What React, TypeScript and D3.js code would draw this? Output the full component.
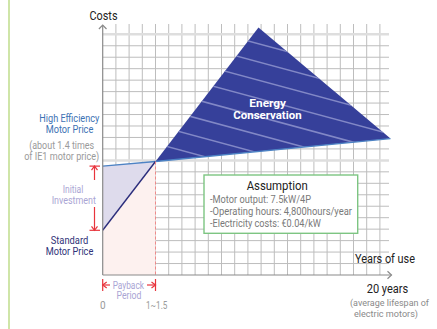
import React from "react";
import * as d3 from "d3";

// ---- data (grid units: x = years-of-use axis, y = cost axis) ----
const gridCount = 21;
const heavyRows = [0, 11];
const standardCost = [
  { t: 0, c: 3.9 },
  { t: 4, c: 9.9 },
  { t: 11.8, c: 21.6 },
];
const highEffCost = [
  { t: 0, c: 9.5 },
  { t: 4, c: 9.9 },
  { t: 21.8, c: 11.9 },
];
const paybackT = 4;
const conservation = [
  { t: 4, c: 9.9 },
  { t: 11.8, c: 21.6 },
  { t: 21.8, c: 11.9 },
];
const assumptionLines = [
  "-Motor output: 7.5kW/4P",
  "-Operating hours: 4,800hours/year",
  "-Electricity costs: €0.04/kW",
];
const assumptionWidths = [101, 142, 111];

const RED = "#e8343c";
const FONT = "Roboto, 'Open Sans', sans-serif";

function T(props: any) {
  const { x, y, w, size = 11, fill = "#222", anchor = "middle", weight = 400, children } = props;
  return (
    <text
      x={x}
      y={y}
      fontSize={size}
      fill={fill}
      textAnchor={anchor}
      fontWeight={weight}
      fontFamily={FONT}
      textLength={w}
      lengthAdjust="spacingAndGlyphs"
    >
      {children}
    </text>
  );
}

export default function App() {
  const x = d3.scaleLinear().domain([0, gridCount]).range([102.7, 379.9]);
  const y = d3.scaleLinear().domain([0, gridCount]).range([275, 34.3]);
  const line = d3
    .line<{ t: number; c: number }>()
    .x((d) => x(d.t))
    .y((d) => y(d.c));
  const ticks = d3.range(0, gridCount + 1);
  const gridRight = 389;
  const gridTop = 24;

  const pinkPoly = [
    { t: 0, c: 0 },
    { t: 0, c: highEffCost[0].c },
    { t: paybackT, c: highEffCost[1].c },
    { t: paybackT, c: 0 },
  ];
  const lavPoly = [highEffCost[0], highEffCost[1], standardCost[0]];

  // decorative stripes inside conservation triangle
  const stripes = d3.range(-4, 10).map((k) => {
    const x0 = 140, x1 = 400;
    const y0 = 59 + 0.27 * (x0 - 180) + 18.2 * k;
    const y1 = 59 + 0.27 * (x1 - 180) + 18.2 * k;
    return { x0, y0, x1, y1, k };
  });

  const px = x(paybackT);
  const ax = 94.5;
  const yHE = y(highEffCost[0].c);
  const ySt = y(standardCost[0].c);

  return (
    <svg
      width={437}
      height={329}
      style={{ position: "absolute", left: 0, top: 0, background: "#fff" }}
    >
      <defs>
        <clipPath id="consClip">
          <path d={line(conservation) + "Z"} />
        </clipPath>
      </defs>
      <rect x={0} y={0} width={437} height={329} fill="#fff" />
      <line x1={9} x2={9} y1={0} y2={329} stroke="#cfe5a8" strokeWidth={2} />

      {/* grid */}
      {ticks.slice(1).map((k) => (
        <line key={"v" + k} x1={x(k)} x2={x(k)} y1={gridTop} y2={y(0)} stroke="#bdbdbd" strokeWidth={1} />
      ))}
      {ticks.slice(1).map((k) =>
        heavyRows.includes(gridCount - k) ? null : (
          <line key={"h" + k} x1={x(0)} x2={gridRight} y1={y(k)} y2={y(k)} stroke="#bdbdbd" strokeWidth={1} />
        )
      )}
      {heavyRows.map((r) => (
        <line key={"hh" + r} x1={x(0)} x2={gridRight} y1={y(gridCount - r)} y2={y(gridCount - r)} stroke="#dedede" strokeWidth={2.5} />
      ))}

      {/* payback region */}
      <path d={line(pinkPoly) + "Z"} fill="#fdf1ef" />
      <path d={line(lavPoly) + "Z"} fill="#dedbec" />

      {/* energy conservation */}
      <path d={line(conservation) + "Z"} fill="#36409a" />
      <g clipPath="url(#consClip)">
        {stripes.map((s) => (
          <line key={s.k} x1={s.x0} y1={s.y0} x2={s.x1} y2={s.y1} stroke="#8288c6" strokeWidth={1.5} />
        ))}
      </g>

      <path d={line(highEffCost) ?? ""} fill="none" stroke="#4d83c4" strokeWidth={1.4} />
      <path d={line(standardCost.slice(0, 2)) ?? ""} fill="none" stroke="#2b2d7c" strokeWidth={1.4} />

      <line x1={px} x2={px} y1={y(highEffCost[1].c)} y2={y(0)} stroke="#f08a8a" strokeWidth={1} strokeDasharray="3,2" />

      {/* axes */}
      <g stroke="#8a8a8a" strokeWidth={1.2} fill="none">
        <line x1={x(0)} x2={x(0)} y1={y(0)} y2={25} />
        <polyline points={`${x(0) - 3.8},${29} ${x(0)},${25} ${x(0) + 3.8},${29}`} />
        <line x1={x(0)} x2={391.5} y1={y(0)} y2={y(0)} />
        <polyline points={`387.5,271.2 391.5,275 387.5,278.8`} />
      </g>

      {/* initial investment arrow */}
      <g stroke={RED} strokeWidth={1.2} fill="none">
        <line x1={89.5} x2={100} y1={yHE} y2={yHE} />
        <line x1={89.5} x2={100} y1={ySt} y2={ySt} />
        <line x1={ax} x2={ax} y1={yHE} y2={180} />
        <line x1={ax} x2={ax} y1={207} y2={ySt} />
        <polyline points={`${ax - 3},${yHE + 4} ${ax},${yHE} ${ax + 3},${yHE + 4}`} />
        <polyline points={`${ax - 3},${ySt - 4} ${ax},${ySt} ${ax + 3},${ySt - 4}`} />
      </g>
      {/* payback arrow */}
      <g stroke={RED} strokeWidth={1.2} fill="none">
        <line x1={x(0)} x2={x(0)} y1={279} y2={291} />
        <line x1={px} x2={px} y1={279} y2={291} />
        <line x1={x(0)} x2={110} y1={285} y2={285} />
        <line x1={147} x2={px} y1={285} y2={285} />
        <polyline points={`${x(0) + 4},${282} ${x(0)},${285} ${x(0) + 4},${288}`} />
        <polyline points={`${px - 4},${282} ${px},${285} ${px - 4},${288}`} />
      </g>

      {/* labels */}
      <T x={103.5} y={19.5} w={28} size={12}>Costs</T>
      <T x={69.3} y={121.8} w={60} size={11} fill="#3d72b4">High Efficiency</T>
      <T x={69.5} y={133.4} w={47.6} size={11} fill="#3d72b4">Motor Price</T>
      <T x={61.7} y={148.8} w={65} size={10} fill="#9a9a9a">(about 1.4 times</T>
      <T x={61.7} y={159.6} w={75} size={10} fill="#9a9a9a">of IE1 motor price)</T>
      <T x={73} y={193} w={20.6} size={10} fill="#aaa5d4">Initial</T>
      <T x={73.8} y={203.5} w={44.3} size={10} fill="#aaa5d4">Investment</T>
      <T x={69.5} y={243.5} w={37.6} size={11} fill="#2f3278">Standard</T>
      <T x={69.5} y={255.2} w={47.6} size={11} fill="#2f3278">Motor Price</T>
      <T x={128.3} y={289} w={31.3} size={10} fill="#aaa5d4">Payback</T>
      <T x={129} y={299.3} w={25} size={10} fill="#aaa5d4">Period</T>
      <T x={x(0)} y={309} size={10} fill="#9a9a9a">0</T>
      <T x={156.7} y={309} w={21.3} size={10} fill="#9a9a9a">1~1.5</T>
      <T x={267.7} y={107} w={36.7} size={11} fill="#fff" weight={700}>Energy</T>
      <T x={267.5} y={118.5} w={68.3} size={11} fill="#fff" weight={700}>Conservation</T>

      {/* assumption box */}
      <rect x={204} y={175} width={153.7} height={58.3} fill="#fff" stroke="#7dc582" strokeWidth={1.4} />
      <T x={277.2} y={189.5} w={61} size={12}>Assumption</T>
      {assumptionLines.map((s, i) => (
        <T key={s} x={210} y={203.2 + i * 11.9} w={assumptionWidths[i]} size={10} fill="#7a7a7a" anchor="start">
          {s}
        </T>
      ))}

      <T x={385} y={263} w={60} size={12}>Years of use</T>
      <T x={387.5} y={292.5} w={41.6} size={12}>20 years</T>
      <T x={389.5} y={305.5} w={79} size={9.5} fill="#8a8a8a">(average lifespan of</T>
      <T x={386} y={317} w={64} size={9.5} fill="#8a8a8a">electric motors)</T>
    </svg>
  );
}
